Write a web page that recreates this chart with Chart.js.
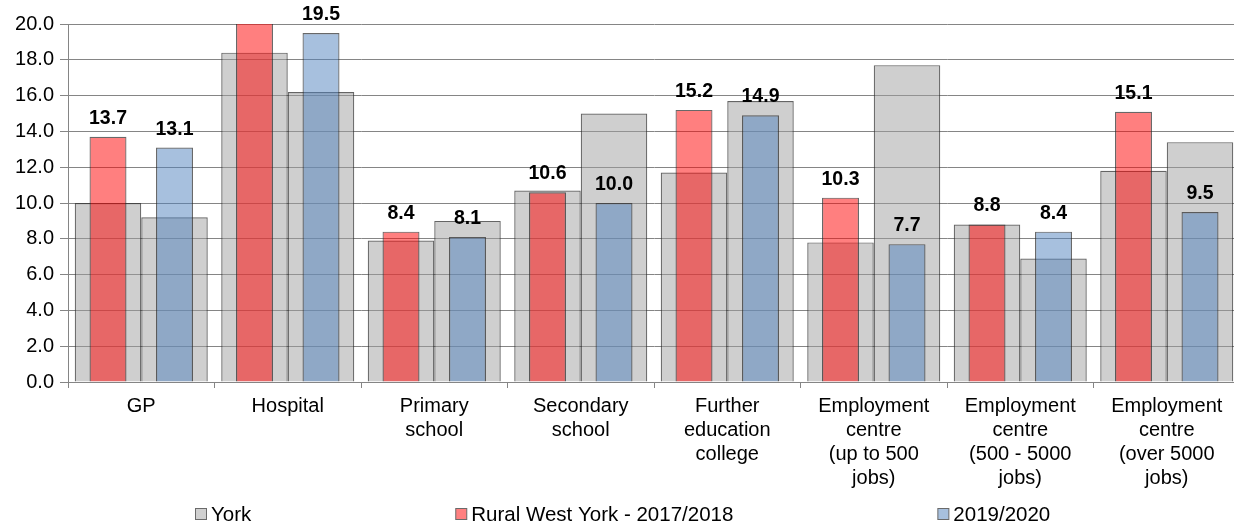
<!DOCTYPE html>
<html><head><meta charset="utf-8">
<script src="https://cdn.jsdelivr.net/npm/chart.js@4/dist/chart.umd.min.js"></script>
<style>html,body{margin:0;padding:0;overflow:hidden;background:#fff;width:1234px;height:524px}canvas{display:block}</style>
</head><body>
<canvas id="c" width="1240" height="524"></canvas>
<script>
const categories = [["GP"],["Hospital"],["Primary","school"],["Secondary","school"],["Further","education","college"],["Employment","centre","(up to 500","jobs)"],["Employment","centre","(500 - 5000","jobs)"],["Employment","centre","(over 5000","jobs)"]];
const seriesNames = ["York", "Rural West York - 2017/2018", "2019/2020"];
const york2017 = [10.0, 18.4, 7.9, 10.7, 11.7, 7.8, 8.8, 11.8];
const york2019 = [9.2, 16.2, 9.0, 15.0, 15.7, 17.7, 6.9, 13.4];
const rural2017 = [13.7, 21.0, 8.4, 10.6, 15.2, 10.3, 8.8, 15.1];
const rural2019 = [13.1, 19.5, 8.1, 10.0, 14.9, 7.7, 8.4, 9.5];
const yMin = 0, yMax = 20, yStep = 2;

const FONT = '"Liberation Sans", Arial, sans-serif';
const GRAY = 'rgba(160,160,160,0.5)';
const RED = 'rgba(255,0,0,0.5)';
const BLUE = 'rgba(79,129,189,0.5)';

const valueLabels = {
  id: 'valueLabels',
  afterDatasetsDraw(chart) {
    const ctx = chart.ctx;
    ctx.save();
    ctx.font = 'bold 19.5px ' + FONT;
    ctx.fillStyle = '#000';
    ctx.textAlign = 'center';
    ctx.textBaseline = 'alphabetic';
    chart.data.datasets.forEach((ds, i) => {
      if (!ds.showValue) return;
      const meta = chart.getDatasetMeta(i);
      meta.data.forEach((el, j) => {
        ctx.fillText(ds.data[j].toFixed(1), el.x, el.y - 13);
      });
    });
    ctx.restore();
  }
};

const customLegend = {
  id: 'customLegend',
  afterDraw(chart) {
    const ctx = chart.ctx;
    const items = [
      {text: seriesNames[0], fill: '#d0d0d0'},
      {text: seriesNames[1], fill: '#ff8080'},
      {text: seriesNames[2], fill: '#a7c0de'}
    ];
    ctx.save();
    ctx.font = '20.5px ' + FONT;
    ctx.textBaseline = 'middle';
    ctx.textAlign = 'left';
    let x = 195;
    const yc = 514;
    items.forEach(it => {
      ctx.fillStyle = it.fill;
      ctx.fillRect(x + 0.5, yc - 5.5, 11, 11);
      ctx.strokeStyle = '#6a6a6a';
      ctx.lineWidth = 1;
      ctx.strokeRect(x + 0.5, yc - 5.5, 11, 11);
      ctx.fillStyle = '#000';
      ctx.fillText(it.text, x + 16, yc + 1);
      x += 16 + ctx.measureText(it.text).width + 204;
    });
    ctx.restore();
  }
};

const common = {categoryPercentage: 0.908};
new Chart(document.getElementById('c'), {
  type: 'bar',
  data: {
    labels: categories,
    datasets: [
      Object.assign({label: seriesNames[1], data: rural2017, stack: 'a', backgroundColor: RED, borderColor: 'rgba(40,40,40,0.7)', borderWidth: 1.2, barPercentage: 0.556, order: 0, showValue: true}, common),
      Object.assign({label: seriesNames[2], data: rural2019, stack: 'b', backgroundColor: BLUE, borderColor: 'rgba(40,40,40,0.7)', borderWidth: 1.2, barPercentage: 0.556, order: 0, showValue: true}, common),
      Object.assign({label: seriesNames[0], data: york2017, stack: 'a', backgroundColor: GRAY, borderColor: 'rgba(50,50,50,0.75)', borderWidth: 1.2, barPercentage: 1.0, order: 1}, common),
      Object.assign({label: seriesNames[0], data: york2019, stack: 'b', backgroundColor: GRAY, borderColor: 'rgba(50,50,50,0.75)', borderWidth: 1.2, barPercentage: 1.0, order: 1}, common)
    ]
  },
  options: {
    responsive: false,
    animation: false,
    devicePixelRatio: 1,
    layout: {padding: {top: 24, right: 0, bottom: 0, left: 0}},
    plugins: {legend: {display: false}, tooltip: {enabled: false}, title: {display: false}},
    scales: {
      x: {
        type: 'category',
        offset: true,
        grid: {display: true, drawOnChartArea: false, offset: true, color: '#858585', tickLength: 6},
        border: {display: true, color: '#858585'},
        ticks: {color: '#000', font: {family: FONT, size: 20}, padding: 6, maxRotation: 0, autoSkip: false},
        afterFit: s => { s.height = 142; }
      },
      y: {
        stacked: false,
        min: yMin, max: yMax,
        grid: {color: '#858585', tickLength: 8},
        border: {display: true, color: '#858585'},
        ticks: {stepSize: yStep, color: '#000', font: {family: FONT, size: 20}, padding: 6, callback: v => Number(v).toFixed(1)},
        afterFit: s => { s.width = 68; }
      }
    }
  },
  plugins: [valueLabels, customLegend]
});
</script>
</body></html>
